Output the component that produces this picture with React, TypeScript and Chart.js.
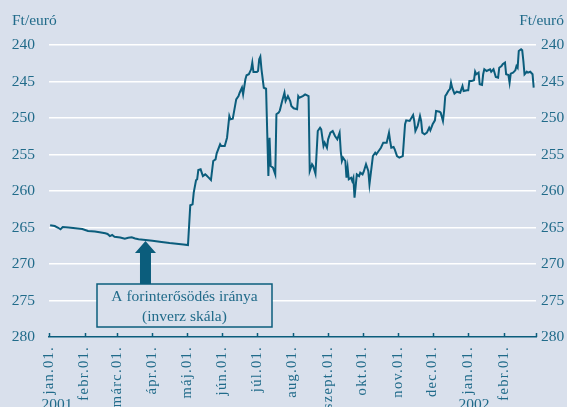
import React, { useEffect, useRef } from "react";
import { Chart, registerables } from "chart.js";

Chart.register(...registerables);

// days since 2001-01-01
const days = [
  1, 5, 8, 10, 12, 17, 23, 29, 34, 40, 44, 49, 51, 53, 55, 57, 62, 66, 69, 72, 75, 78, 84, 90, 98, 105, 113, 117, 121,
  123, 125, 126, 128, 129, 130, 132, 134, 136, 137, 139, 141, 143, 145, 146, 149, 150, 153, 155, 157, 158, 160, 163, 165,
  166, 168, 169, 171, 172, 174, 176, 177, 178, 181, 182, 183, 184, 185, 187, 189, 190, 191, 192, 193, 195, 197, 198, 200,
  201, 203, 205, 206, 208, 210, 211, 213, 216, 217, 218, 221, 223, 226, 227, 229, 230, 232, 234, 236, 237, 239, 240, 242,
  243, 245, 247, 249, 251, 253, 254, 255, 256, 258, 259, 260, 261, 263, 264, 265, 266, 268, 270, 271, 273, 274, 276, 278,
  279, 282, 284, 285, 287, 289, 291, 294, 296, 297, 298, 300, 301, 303, 305, 308, 310, 311, 314, 317, 318, 319, 321, 323,
  324, 325, 327, 329, 331, 332, 334, 336, 337, 340, 341, 343, 344, 345, 346, 348, 349, 350, 351, 353, 355, 358, 360, 361,
  364, 365, 366, 368, 370, 371, 372, 374, 375, 377, 378, 379, 381, 384, 385, 387, 389, 391, 392, 394, 395, 397, 398, 400,
  401, 402, 404, 406, 407, 408, 409, 411, 412, 413, 414, 416, 417, 419, 421, 422,
];

// Ft/euró
const rates = [
  264.7, 264.8, 265.04, 265.25, 264.93, 265.0, 265.11, 265.21, 265.48, 265.55, 265.66, 265.8, 265.89, 266.17, 266.03,
  266.26, 266.37, 266.54, 266.41, 266.35, 266.51, 266.62, 266.72, 266.82, 266.99, 267.13, 267.26, 267.33, 267.4,
  261.96, 261.83, 260.23, 258.54, 258.4, 257.13, 257.03, 257.95, 257.72, 257.85, 258.17, 258.5, 255.89, 255.66, 254.84,
  253.6, 253.84, 253.84, 252.7, 249.73, 250.18, 250.1, 247.44, 246.99, 246.54, 245.85, 246.76, 244.7, 244.15, 244.01,
  243.33, 242.42, 243.7, 243.7, 243.56, 241.96, 241.6, 243.33, 245.85, 245.99, 252.01, 257.95, 252.7, 256.58, 256.81,
  257.72, 249.49, 249.27, 248.95, 247.67, 246.54, 247.67, 246.99, 247.67, 248.36, 248.67, 248.81, 246.99, 247.22, 246.99,
  246.76, 246.99, 257.26, 256.34, 256.58, 257.63, 251.78, 251.33, 251.55, 253.84, 253.38, 254.07, 252.92, 252.01, 251.78,
  252.47, 252.92, 252.01, 254.52, 255.89, 255.44, 255.89, 258.18, 256.81, 258.4, 258.18, 258.63, 258.18, 260.92, 257.72,
  257.95, 257.49, 257.72, 257.36, 256.34, 257.26, 259.08, 255.21, 254.75, 254.97, 254.52, 254.07, 253.38, 253.38, 252.01,
  253.15, 254.07, 253.97, 254.29, 255.21, 255.44, 255.21, 250.86, 250.32, 250.41, 249.59, 250.41, 251.78, 251.1, 249.73,
  250.41, 252.01, 252.23, 252.01, 251.33, 251.69, 250.86, 250.32, 249.04, 249.14, 249.27, 250.41, 249.04, 246.99, 246.76,
  246.21, 246.07, 245.16, 245.85, 246.67, 246.4, 246.53, 245.62, 246.3, 246.21, 246.21, 244.93, 244.93, 244.84, 243.66,
  244.01, 243.79, 245.38, 245.48, 244.01, 243.33, 243.56, 243.33, 243.66, 243.33, 244.38, 244.48, 243.11, 242.88, 242.64,
  242.42, 244.01, 244.11, 245.16, 243.93, 243.79, 243.47, 242.88, 243.11, 240.82, 240.59, 240.73, 242.19, 244.01, 243.66,
  243.79, 243.66, 244.01, 245.85,
];

const monthTicks = [0, 31, 59, 90, 120, 151, 181, 212, 243, 273, 304, 334, 365, 396, 424];
const monthLabels = [
  "jan.01.", "febr.01.", "márc.01.", "ápr.01.", "máj.01.", "jún.01.", "júl.01.", "aug.01.",
  "szept.01.", "okt.01.", "nov.01.", "dec.01.", "jan.01.", "febr.01.", "",
];
const yearDays = [7, 370];
const yearLabels = ["2001", "2002"];
const yTicks = [240, 245, 250, 255, 260, 265, 270, 275, 280];
const unitLabel = "Ft/euró";
const noteLines = ["A forinterősödés iránya", "(inverz skála)"];
const arrowDay = 84;
const arrowRate = 266.72;

const BG = "#d9e0ec";
const TEXT = "#216b8a";
const LINE = "#0b5d7c";
const FONT = "Liberation Serif, DejaVu Serif, serif";

export default function App() {
  const ref = useRef<HTMLCanvasElement | null>(null);

  useEffect(() => {
    document.body.style.margin = "0";
    document.body.style.background = BG;
    const canvas = ref.current;
    if (!canvas) return;

    const decor = {
      id: "decor",
      beforeDraw(chart: any) {
        const ctx = chart.ctx;
        ctx.save();
        ctx.fillStyle = BG;
        ctx.fillRect(0, 0, chart.width, chart.height);
        ctx.restore();
      },
      afterDraw(chart: any) {
        const ctx = chart.ctx;
        const xs = chart.scales.x;
        const ys = chart.scales.y;
        const area = chart.chartArea;
        ctx.save();
        // tick marks on bottom axis
        ctx.strokeStyle = LINE;
        ctx.lineWidth = 1.5;
        monthTicks.forEach((d) => {
          const x = Math.round(xs.getPixelForValue(d)) + 0.5;
          ctx.beginPath();
          ctx.moveTo(x, area.bottom - 4);
          ctx.lineTo(x, area.bottom);
          ctx.stroke();
        });
        // month labels, rotated, reading bottom to top
        ctx.fillStyle = TEXT;
        ctx.font = `14.5px ${FONT}`;
        ctx.textAlign = "right";
        ctx.textBaseline = "middle";
        (ctx as any).letterSpacing = "1.3px";
        monthTicks.forEach((d, i) => {
          const label = monthLabels[i];
          if (!label) return;
          const x = xs.getPixelForValue(d);
          ctx.save();
          ctx.translate(x, area.bottom + 9);
          ctx.rotate(-Math.PI / 2);
          ctx.fillText(label, 0, 0);
          ctx.restore();
        });
        (ctx as any).letterSpacing = "0px";
        // unit labels
        ctx.font = `15.5px ${FONT}`;
        ctx.textBaseline = "middle";
        ctx.textAlign = "left";
        ctx.fillText(unitLabel, 12, 21);
        ctx.textAlign = "right";
        ctx.fillText(unitLabel, 564, 21);
        // years
        ctx.textAlign = "center";
        ctx.textBaseline = "top";
        yearDays.forEach((d, i) => {
          ctx.fillText(yearLabels[i], xs.getPixelForValue(d), 397);
        });
        // arrow
        const tipX = xs.getPixelForValue(arrowDay);
        const tipY = ys.getPixelForValue(arrowRate) + 1;
        const boxTop = 284;
        ctx.fillStyle = LINE;
        ctx.beginPath();
        ctx.moveTo(tipX, tipY);
        ctx.lineTo(tipX + 10.5, tipY + 12);
        ctx.lineTo(tipX + 5.5, tipY + 12);
        ctx.lineTo(tipX + 5.5, boxTop);
        ctx.lineTo(tipX - 5.5, boxTop);
        ctx.lineTo(tipX - 5.5, tipY + 12);
        ctx.lineTo(tipX - 10.5, tipY + 12);
        ctx.closePath();
        ctx.fill();
        // box
        const bx = 97, by = boxTop, bw = 175, bh = 43;
        ctx.fillStyle = BG;
        ctx.fillRect(bx, by, bw, bh);
        ctx.strokeStyle = LINE;
        ctx.lineWidth = 1.5;
        ctx.strokeRect(bx, by, bw, bh);
        ctx.fillStyle = TEXT;
        ctx.font = `15.5px ${FONT}`;
        ctx.textAlign = "center";
        ctx.textBaseline = "middle";
        ctx.fillText(noteLines[0], bx + bw / 2, by + 12.5);
        ctx.fillText(noteLines[1], bx + bw / 2, by + 32.5);
        ctx.restore();
      },
    };

    const tickFont = { family: FONT, size: 15.5 };

    const chart = new Chart(canvas, {
      type: "line",
      data: {
        datasets: [
          {
            data: days.map((d, i) => ({ x: d, y: rates[i] })),
            borderColor: LINE,
            borderWidth: 2,
            pointRadius: 0,
            tension: 0,
            fill: false,
            yAxisID: "y",
          },
        ],
      },
      options: {
        responsive: true,
        maintainAspectRatio: false,
        animation: false,
        layout: { padding: { top: 45, left: 0, right: 0, bottom: 0 } },
        plugins: { legend: { display: false }, tooltip: { enabled: false } },
        scales: {
          x: {
            type: "linear",
            min: 0,
            max: 424,
            afterBuildTicks: (scale: any) => {
              scale.ticks = monthTicks.map((v) => ({ value: v }));
            },
            afterFit: (scale: any) => {
              scale.height = 70;
            },
            ticks: { display: false },
            grid: { display: false, drawTicks: false },
            border: { display: true, color: LINE, width: 1.5 },
          },
          y: {
            position: "left",
            reverse: true,
            min: 240,
            max: 280,
            afterBuildTicks: (scale: any) => {
              scale.ticks = yTicks.map((v) => ({ value: v }));
            },
            afterFit: (scale: any) => {
              scale.width = 49;
            },
            ticks: { color: TEXT, font: tickFont, padding: 14 },
            grid: {
              drawTicks: false,
              lineWidth: 1.5,
              color: (c: any) => (c.tick && c.tick.value === 280 ? "rgba(0,0,0,0)" : "#ffffff"),
            },
            border: { display: false },
          },
          y2: {
            position: "right",
            reverse: true,
            min: 240,
            max: 280,
            afterBuildTicks: (scale: any) => {
              scale.ticks = yTicks.map((v) => ({ value: v }));
            },
            afterFit: (scale: any) => {
              scale.width = 31;
            },
            ticks: { color: TEXT, font: tickFont, padding: 5 },
            grid: { display: false, drawTicks: false },
            border: { display: false },
          },
        },
      },
      plugins: [decor],
    } as any);

    return () => chart.destroy();
  }, []);

  return (
    <div style={{ width: 567, height: 407, position: "relative", background: BG }}>
      <canvas ref={ref} />
    </div>
  );
}
